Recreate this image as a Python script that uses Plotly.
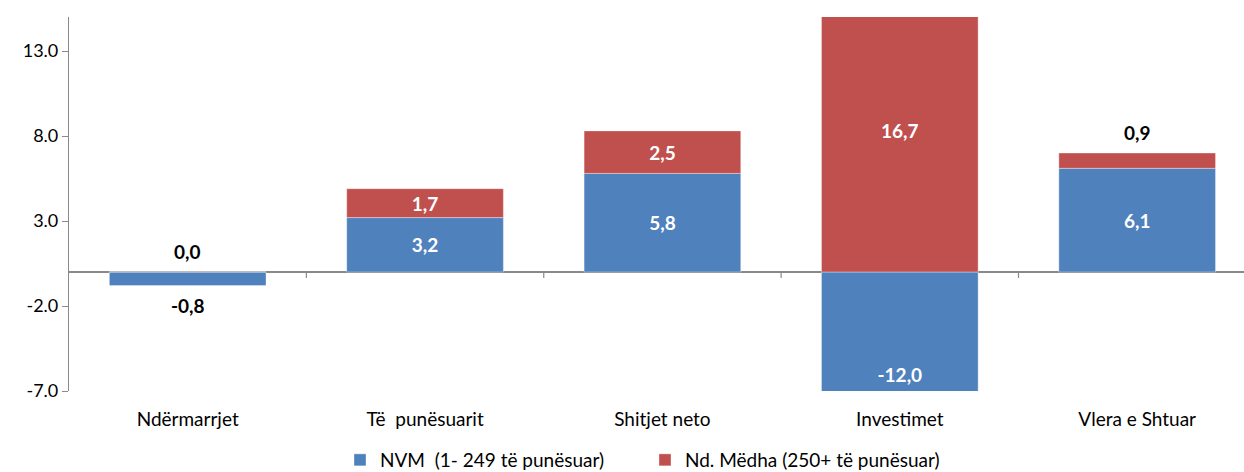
import plotly.graph_objects as go

categories = ["Ndërmarrjet", "Të\u00a0\u00a0punësuarit", "Shitjet neto", "Investimet", "Vlera e Shtuar"]
nvm = [-0.8, 3.2, 5.8, -12.0, 6.1]
large = [0.0, 1.7, 2.5, 16.7, 0.9]
series_names = ["NVM\u00a0\u00a0(1- 249 të punësuar)", "Nd. Mëdha (250+ të punësuar)"]
# which labels sit outside the bar (drawn in black above / below)
nvm_outside = [True, False, False, False, False]
large_outside = [True, False, False, False, True]
y_tick_vals = [-7, -2, 3, 8, 13]
y_tick_text = ["-7.0", "-2.0", "3.0", "8.0", "13.0"]

def fmt(v):
    return f"{v:.1f}".replace(".", ",")

FONT = "Lato, Carlito, 'Open Sans', sans-serif"
BLUE = "#4F81BD"
RED = "#C0504D"
GREY = "#898989"
LBL = 19

fig = go.Figure()
for vals, name, outs, col in [(nvm, series_names[0], nvm_outside, BLUE),
                              (large, series_names[1], large_outside, RED)]:
    fig.add_trace(go.Bar(
        x=categories, y=vals, name=name,
        marker=dict(color=col, line=dict(color="rgba(255,255,255,0.6)", width=0.6)),
        text=["" if o else fmt(v) for v, o in zip(vals, outs)],
        textposition="inside",
        insidetextanchor="middle",
        insidetextfont=dict(color="white", size=LBL, family=FONT, weight="bold"),
        textfont=dict(size=LBL, family=FONT, weight="bold"),
        cliponaxis=True, constraintext="none",
    ))

# outside labels: placed at the end of each stacked segment
for i, cat in enumerate(categories):
    b, r = nvm[i], large[i]
    if nvm_outside[i]:
        end = b if b < 0 else b
        fig.add_annotation(x=cat, y=end, text=fmt(b), showarrow=False,
                           yshift=-20 if b < 0 else 20,
                           font=dict(size=LBL, family=FONT, color="black", weight="bold"))
    if large_outside[i]:
        base = b if b > 0 else 0
        fig.add_annotation(x=cat, y=base + r, text=fmt(r), showarrow=False,
                           yshift=21,
                           font=dict(size=LBL, family=FONT, color="black", weight="bold"))

# small category separator ticks on the zero line
for i in range(len(categories)):
    fig.add_shape(type="line", xref="x", yref="y",
                  x0=i + 0.5, x1=i + 0.5, y0=0, y1=-0.35,
                  line=dict(color=GREY, width=1.2))

fig.update_layout(
    width=1244, height=472,
    barmode="relative", bargap=0.34,
    plot_bgcolor="white", paper_bgcolor="white",
    margin=dict(l=69, r=0, t=17, b=81, autoexpand=False),
    font=dict(family=FONT, size=19, color="black"),
    uniformtext=dict(mode=False),
    legend=dict(orientation="h", xref="container", x=340 / 1244, xanchor="left",
                yref="container", y=12 / 472, yanchor="middle",
                entrywidth=260, entrywidthmode="pixels",
                font=dict(size=19, family=FONT), itemwidth=30, traceorder="normal"),
    xaxis=dict(range=[-0.5, 4.45], showline=False, ticks="", showgrid=False,
               automargin=False,
               tickfont=dict(size=19, family=FONT, color="black"), ticklabelstandoff=15),
    yaxis=dict(range=[-7, 15], tickvals=y_tick_vals, ticktext=y_tick_text,
               automargin=False,
               showgrid=False, showline=True, linecolor=GREY, linewidth=1.2,
               ticks="outside", ticklen=6, tickcolor=GREY,
               zeroline=True, zerolinecolor=GREY, zerolinewidth=1.6,
               tickfont=dict(size=18, family=FONT, color="black")),
)

fig.write_html("out.html", config={"displayModeBar": False},
               post_script="document.body.style.margin='0';document.body.style.overflow='hidden';")
